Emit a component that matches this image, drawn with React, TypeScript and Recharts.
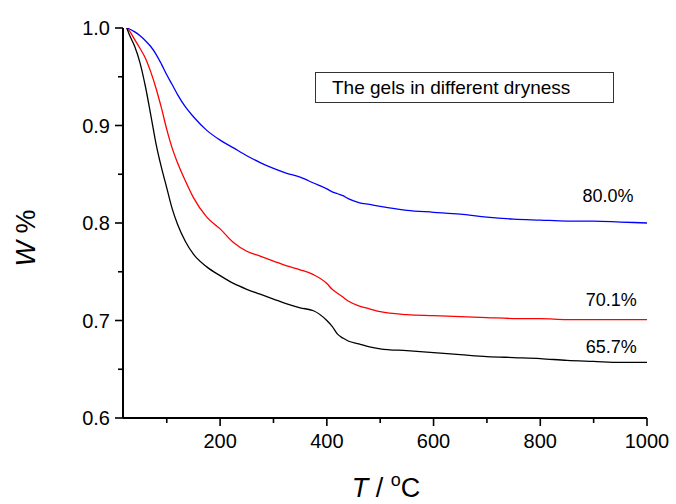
import { Customized, Line, LineChart, ReferenceDot, XAxis, YAxis } from "recharts"

// temperature (°C) shared by all three TG curves
const temperature = [
  25, 30, 40, 50, 60, 70, 80, 90, 100, 110, 120, 135, 150, 175, 200, 225, 250, 275, 300, 325, 350, 375, 400,
  410, 420, 430, 440, 460, 480, 500, 550, 600, 650, 700, 750, 800, 850, 900, 950, 1000,
]

// residual weight fraction, one list per gel
const gel80 = [
  1.0, 0.999, 0.996, 0.992, 0.987, 0.981, 0.973, 0.963, 0.952, 0.942, 0.932, 0.919, 0.909, 0.895, 0.885, 0.877, 0.869,
  0.862, 0.856, 0.851, 0.847, 0.841, 0.835, 0.832, 0.83, 0.828, 0.825, 0.821, 0.819, 0.817, 0.813, 0.811, 0.809,
  0.806, 0.804, 0.803, 0.802, 0.802, 0.801, 0.8,
]
const gel70 = [
  1.0, 0.997, 0.988, 0.979, 0.969, 0.955, 0.938, 0.918, 0.896, 0.877, 0.862, 0.843, 0.826, 0.806, 0.794, 0.78, 0.771,
  0.766, 0.761, 0.756, 0.752, 0.747, 0.738, 0.732, 0.728, 0.724, 0.72, 0.715, 0.712, 0.709, 0.706, 0.705, 0.704,
  0.703, 0.702, 0.702, 0.701, 0.701, 0.701, 0.701,
]
const gel65 = [
  1.0, 0.993, 0.981, 0.964, 0.94, 0.911, 0.881, 0.857, 0.836, 0.815, 0.799, 0.781, 0.768, 0.755, 0.746, 0.738, 0.732,
  0.727, 0.722, 0.717, 0.713, 0.71, 0.7, 0.694, 0.686, 0.682, 0.679, 0.676, 0.673, 0.671, 0.669, 0.667, 0.665,
  0.663, 0.662, 0.661, 0.659, 0.658, 0.657, 0.657,
]

const xTicks = [100, 200, 300, 400, 500, 600, 700, 800, 900, 1000]
const xLabelled = [200, 400, 600, 800, 1000]
const yTicks = [0.6, 0.65, 0.7, 0.75, 0.8, 0.85, 0.9, 0.95, 1.0]
const yLabelled = [0.6, 0.7, 0.8, 0.9, 1.0]
const finalLabels = ["80.0%", "70.1%", "65.7%"]
const boxTitle = "The gels in different dryness"

const data = temperature.map((t, i) => ({ t, g80: gel80[i], g70: gel70[i], g65: gel65[i] }))

const font = "'Liberation Sans', Arial, sans-serif"

function XTick({ x, y, payload }: any) {
  const major = xLabelled.includes(payload.value)
  return (
    <g>
      <line x1={x} x2={x} y1={y} y2={y + (major ? 8 : 5)} stroke="#000" strokeWidth={1.6} />
      {major && (
        <text x={x} y={y + 30} textAnchor="middle" fontSize={20} fill="#000" fontFamily={font}>
          {payload.value}
        </text>
      )}
    </g>
  )
}

function YTick({ x, y, payload }: any) {
  const major = yLabelled.some(v => Math.abs(v - payload.value) < 1e-6)
  return (
    <g>
      <line x1={x} x2={x - (major ? 8 : 5)} y1={y} y2={y} stroke="#000" strokeWidth={1.6} />
      {major && (
        <text x={x - 13} y={y + 7} textAnchor="end" fontSize={20} fill="#000" fontFamily={font}>
          {Number(payload.value).toFixed(1)}
        </text>
      )}
    </g>
  )
}

function AxisTitles() {
  return (
    <g fontFamily={font} fill="#000">
      <text x={386} y={497} textAnchor="middle" fontSize={27}>
        <tspan fontStyle="italic">T</tspan>
        <tspan> / </tspan>
        <tspan fontSize={18} dy={-11}>o</tspan>
        <tspan dy={11}>C</tspan>
      </text>
      <text x={35} y={238} textAnchor="middle" fontSize={27} transform="rotate(-90 35 238)">
        <tspan fontStyle="italic">W</tspan>
        <tspan> %</tspan>
      </text>
    </g>
  )
}

export default function App() {
  const endLabel = (value: string) => ({ value, position: "center" as const, fontSize: 18, fill: "#000", fontFamily: font })
  return (
    <div style={{ position: "absolute", left: 0, top: 0, width: 676, height: 504, background: "#fff" }}>
      <LineChart width={676} height={504} data={data} margin={{ top: 28, right: 29, bottom: 0, left: 0 }}>
        <XAxis
          dataKey="t"
          type="number"
          domain={[18, 1000]}
          ticks={xTicks}
          height={86}
          tickSize={0}
          tickMargin={0}
          tickLine={false}
          tick={<XTick />}
          axisLine={{ stroke: "#000", strokeWidth: 2 }}
          allowDataOverflow
        />
        <YAxis
          type="number"
          domain={[0.6, 1.0]}
          ticks={yTicks}
          width={123}
          tickSize={0}
          tickMargin={0}
          tickLine={false}
          tick={<YTick />}
          axisLine={{ stroke: "#000", strokeWidth: 2 }}
          allowDataOverflow
        />
        <Line type="monotone" dataKey="g80" stroke="#0000ff" strokeWidth={1.3} dot={false} isAnimationActive={false} />
        <Line type="monotone" dataKey="g70" stroke="#ff0000" strokeWidth={1.3} dot={false} isAnimationActive={false} />
        <Line type="monotone" dataKey="g65" stroke="#000000" strokeWidth={1.3} dot={false} isAnimationActive={false} />
        <ReferenceDot x={927} y={0.828} r={0} fill="none" stroke="none" label={endLabel(finalLabels[0])} />
        <ReferenceDot x={933} y={0.721} r={0} fill="none" stroke="none" label={endLabel(finalLabels[1])} />
        <ReferenceDot x={933} y={0.673} r={0} fill="none" stroke="none" label={endLabel(finalLabels[2])} />
        <Customized component={<AxisTitles />} />
      </LineChart>
      <div
        style={{
          position: "absolute",
          left: 315,
          top: 72,
          width: 299,
          height: 31,
          boxSizing: "border-box",
          border: "1px solid #333",
          fontFamily: font,
          fontSize: 19,
          lineHeight: "29px",
          paddingLeft: 16,
          color: "#000",
          background: "#fff",
          whiteSpace: "nowrap",
        }}
      >
        {boxTitle}
      </div>
    </div>
  )
}
